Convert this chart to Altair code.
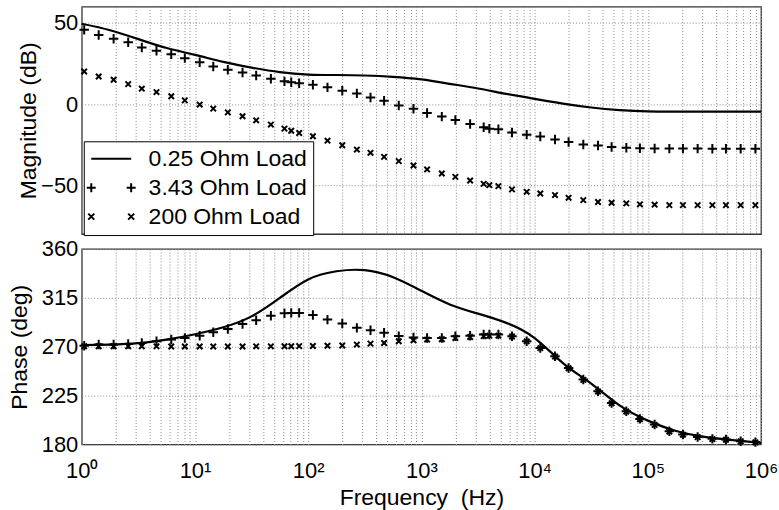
import altair as alt
import pandas as pd

FONT = "Liberation Sans"
SERIES = ["0.25 Ohm Load", "3.43 Ohm Load", "200 Ohm Load"]

# Frequencies (Hz) of the measured markers
FREQ_PTS = [1.05, 1.41, 1.91, 2.57, 3.39, 4.57, 6.17, 8.13, 11.0, 14.5,
            19.5, 26.3, 34.7, 46.8, 61.7, 70.8, 83.2, 110, 148, 200,
            269, 355, 468, 631, 851, 1122, 1514, 1995, 2692, 3548,
            3981, 4786, 6310, 8511, 11220, 15136, 19953, 26915, 36308, 47863,
            64565, 85114, 114815, 154882, 204174, 275423, 371535, 489779, 660693, 891251]

# Frequencies (Hz) of the solid 0.25 Ohm curve
FREQ_LINE = [1, 1.78, 3.16, 5.62, 10, 17.8, 31.6, 56.2, 100, 178,
             316, 562, 1000, 1778, 3162, 5623, 10000, 17783, 31623, 56234,
             100000, 177828, 316228, 562341, 1000000]

# Magnitude (dB)
MAG_025 = [49.5, 45.5, 40.0, 34.5, 30.3, 26.0, 22.5, 19.7, 18.2, 17.9,
           17.6, 16.8, 15.2, 12.5, 9.6, 6.3, 3.2, 0.3, -2.1, -3.7,
           -4.5, -4.6, -4.6, -4.6, -4.6]
MAG_343 = [45.7, 42.6, 40.2, 38.1, 34.8, 32.8, 30.7, 28.3, 25.8, 23.2,
           21.1, 19.5, 17.6, 15.6, 14.0, 13.5, 12.9, 11.9, 10.3, 8.2,
           6.6, 4.1, 2.1, -0.8, -2.8, -5.5, -7.7, -9.8, -12.3, -14.3,
           -15.1, -15.5, -17.5, -18.8, -20.0, -21.8, -23.3, -24.9, -25.5, -26.4,
           -26.9, -27.2, -27.3, -27.4, -27.4, -27.4, -27.5, -27.5, -27.5, -27.5]
MAG_200 = [20.1, 17.0, 15.0, 12.3, 9.5, 7.4, 4.8, 2.3, -0.3, -2.8,
           -5.1, -7.5, -10.0, -12.6, -15.1, -16.4, -17.8, -19.8, -22.5, -25.3,
           -28.0, -30.0, -32.5, -35.1, -37.8, -40.2, -42.7, -44.8, -47.0, -49.1,
           -49.9, -50.5, -52.5, -54.0, -55.0, -56.0, -57.7, -59.1, -60.3, -60.7,
           -61.1, -61.7, -61.9, -62.2, -62.2, -62.2, -62.2, -62.2, -62.2, -62.2]

# Phase (deg)
PHASE_025 = [271.5, 272.0, 273.3, 276.5, 281.5, 288.0, 298.0, 315.0, 332.0, 339.5,
             340.5, 334.0, 321.5, 309.0, 300.5, 292.0, 278.0, 255.0, 236.0, 216.0,
             202.0, 192.5, 187.0, 184.0, 181.5]
PHASE_343 = [271.0, 272.0, 272.0, 272.6, 273.5, 275.1, 276.6, 278.1, 280.2, 283.4,
             286.4, 291.0, 294.4, 298.6, 300.8, 301.2, 301.2, 299.3, 295.0, 291.4,
             287.4, 285.3, 283.0, 279.8, 278.5, 278.1, 278.1, 279.6, 280.2, 281.2,
             281.2, 281.2, 279.6, 275.1, 268.9, 261.3, 250.5, 239.8, 229.1, 218.3,
             210.7, 203.6, 198.4, 192.3, 189.2, 187.0, 185.2, 184.6, 183.1, 182.2]
PHASE_200 = [270.5, 270.5, 270.5, 270.5, 270.4, 270.4, 270.3, 270.3, 270.3, 270.3,
             270.3, 270.3, 270.4, 270.4, 270.5, 270.5, 270.6, 270.7, 270.9, 271.2,
             272.0, 272.9, 273.5, 275.1, 276.0, 276.6, 276.9, 278.1, 279.0, 279.8,
             280.2, 280.2, 279.4, 275.0, 268.7, 261.0, 250.2, 239.5, 228.8, 218.0,
             210.4, 203.3, 198.1, 192.0, 189.0, 186.8, 185.0, 184.4, 182.9, 182.0]

X_TICKS = [m * 10 ** k for k in range(6) for m in range(1, 10)] + [10 ** 6]
MAG_TICKS = [-50, 0, 50]
PHASE_TICKS = [180, 225, 270, 315, 360]
X_LABEL_EXPR = ("abs(log(datum.value)/LN10 - round(log(datum.value)/LN10)) < 0.001 ? "
                "['10⁰','10¹','10²','10³','10⁴','10⁵','10⁶'][round(log(datum.value)/LN10)] : ''")

PLUS = "M-1,0L1,0M0,-1L0,1"
CROSS = "M-1,-1L1,1M-1,1L1,-1"
LEG_LINE = "M-2,0L2,0"
LEG_PLUS = "M-2.45,0L-1.55,0M-2,-0.45L-2,0.45M1.55,0L2.45,0M2,-0.45L2,0.45"
LEG_CROSS = "M-2.3,-0.3L-1.7,0.3M-2.3,0.3L-1.7,-0.3M1.7,-0.3L2.3,0.3M1.7,0.3L2.3,-0.3"


def frame(freq, vals, name):
    return pd.DataFrame({"freq": freq, "value": vals, "series": name})


GRID = dict(grid=True, gridDash=[1, 2], gridColor="#8a8a8a", gridWidth=1,
            ticks=False, domain=False)
x_scale = alt.Scale(type="log", domain=[1, 1e6], nice=False)

x_top = alt.X("freq:Q", scale=x_scale,
              axis=alt.Axis(values=X_TICKS, labels=False, title=None, **GRID))
x_bot = alt.X("freq:Q", scale=x_scale,
              axis=alt.Axis(values=X_TICKS, labelExpr=X_LABEL_EXPR, labelOverlap=False,
                            labelFlush=False, labelFontSize=22, labelFont=FONT,
                            labelColor="black", labelPadding=16,
                            title="Frequency\u00a0 (Hz)", titleFontSize=23,
                            titleFont=FONT, titleFontWeight="normal",
                            titleColor="black", titlePadding=5, **GRID))

y_top = alt.Y("value:Q", scale=alt.Scale(domain=[-80, 60], nice=False, zero=False),
              axis=alt.Axis(values=MAG_TICKS, labelFontSize=22, labelFont=FONT,
                            labelColor="black", labelPadding=4,
                            minExtent=38, maxExtent=38,
                            title="Magnitude (dB)", titleFontSize=23, titleFont=FONT,
                            titleFontWeight="normal", titleColor="black",
                            titlePadding=3, **GRID))
y_bot = alt.Y("value:Q", scale=alt.Scale(domain=[180, 360], nice=False, zero=False),
              axis=alt.Axis(values=PHASE_TICKS, labelFontSize=22, labelFont=FONT,
                            labelColor="black", labelPadding=4,
                            minExtent=38, maxExtent=38,
                            title="Phase (deg)", titleFontSize=23, titleFont=FONT,
                            titleFontWeight="normal", titleColor="black",
                            titlePadding=12, **GRID))


def panel(x, y, line_vals, plus_vals, cross_vals, with_legend):
    line_df = frame(FREQ_LINE, line_vals, SERIES[0])
    plus_df = frame(FREQ_PTS, plus_vals, SERIES[1])
    cross_df = frame(FREQ_PTS, cross_vals, SERIES[2])
    line = alt.Chart(line_df).mark_line(color="black", strokeWidth=2.2,
                                        interpolate="natural").encode(x=x, y=y)
    plus = alt.Chart(plus_df).mark_point(shape=PLUS, size=90, filled=False,
                                         color="black", strokeWidth=2,
                                         opacity=1).encode(x=x, y=y)
    cross = alt.Chart(cross_df).mark_point(shape=CROSS, size=30, filled=False,
                                           color="black", strokeWidth=2,
                                           opacity=1).encode(x=x, y=y)
    layers = [line, plus, cross]
    if with_legend:
        leg_df = pd.concat([line_df, plus_df, cross_df], ignore_index=True)
        leg = alt.Chart(leg_df).mark_point(color="black", filled=False, opacity=0,
                                           strokeWidth=2).encode(
            x=x, y=y,
            shape=alt.Shape("series:N",
                            scale=alt.Scale(domain=SERIES,
                                            range=[LEG_LINE, LEG_PLUS, LEG_CROSS]),
                            legend=alt.Legend(
                                title=None, orient="none", legendX=2, legendY=135,
                                strokeColor="black", fillColor="white", padding=6,
                                cornerRadius=0, symbolSize=400, symbolOpacity=1,
                                symbolStrokeColor="black", symbolFillColor="transparent",
                                symbolStrokeWidth=2, symbolOffset=10, labelOffset=26,
                                labelFont=FONT, labelFontSize=23, labelColor="black",
                                rowPadding=5)))
        layers.append(leg)
    return alt.layer(*layers)


top = panel(x_top, y_top, MAG_025, MAG_343, MAG_200, True).properties(width=681, height=228)
bottom = panel(x_bot, y_bot, PHASE_025, PHASE_343, PHASE_200, False).properties(width=681, height=196)

chart = (alt.vconcat(top, bottom, spacing=2)
         .properties(padding={"left": 8, "top": 5, "right": 0, "bottom": 0})
         .configure(font=FONT)
         .configure_view(stroke="#333333", strokeWidth=1.3))

chart.save("out.html", embed_options={"renderer": "svg", "actions": False})
